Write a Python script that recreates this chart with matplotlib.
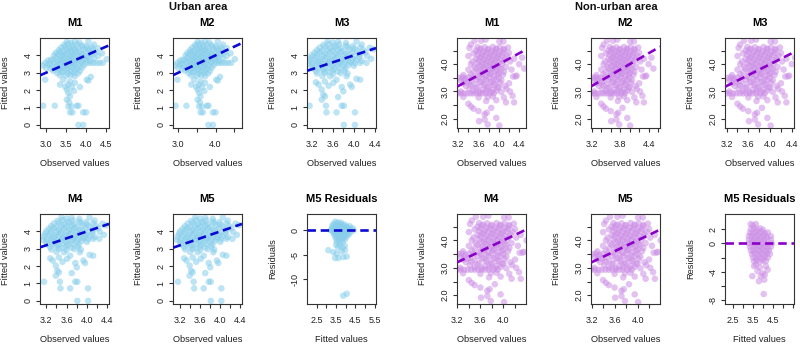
import numpy as np
import matplotlib
matplotlib.use("Agg")
from matplotlib import pyplot as plt

plt.rcParams['font.family'] = ['Liberation Sans', 'DejaVu Sans']

# (observed, fitted) for urban models M1 and M2
urban_m12 = [
    (3.52, 4.78), (3.62, 4.72), (3.72, 4.80), (3.83, 4.74), (4.06, 4.79),
    (3.45, 4.60), (3.55, 4.66), (3.66, 4.55), (3.78, 4.63), (3.90, 4.58), (4.02, 4.52), (4.20, 4.62),
    (3.38, 4.45), (3.48, 4.50), (3.58, 4.40), (3.68, 4.46), (3.80, 4.41), (3.92, 4.49), (4.05, 4.40), (4.15, 4.46), (4.30, 4.42),
    (3.32, 4.30), (3.42, 4.25), (3.52, 4.34), (3.62, 4.26), (3.72, 4.33), (3.82, 4.24), (3.95, 4.34), (4.08, 4.27), (4.18, 4.31),
    (3.25, 4.15), (3.35, 4.19), (3.45, 4.10), (3.55, 4.18), (3.65, 4.11), (3.75, 4.19), (3.88, 4.10), (4.00, 4.18), (4.12, 4.11), (4.25, 4.18), (4.40, 4.12),
    (3.20, 4.00), (3.30, 4.04), (3.40, 3.96), (3.50, 4.03), (3.60, 3.95), (3.70, 4.05), (3.80, 3.96), (3.90, 4.03), (4.02, 3.96), (4.15, 4.04), (4.30, 3.97),
    (3.12, 3.75), (3.25, 3.89), (3.35, 3.81), (3.45, 3.88), (3.55, 3.80), (3.65, 3.89), (3.75, 3.81), (3.85, 3.88), (3.95, 3.81), (4.05, 3.89), (4.20, 3.83), (4.52, 3.78),
    (3.05, 3.70), (3.18, 3.74), (3.30, 3.66), (3.40, 3.73), (3.50, 3.66), (3.60, 3.74), (3.70, 3.65), (3.80, 3.73), (3.90, 3.66), (4.00, 3.74), (4.10, 3.68),
    (2.98, 3.57), (3.10, 3.53), (3.22, 3.60), (3.35, 3.52), (3.45, 3.60), (3.55, 3.52), (3.65, 3.60), (3.75, 3.53), (3.88, 3.59),
    (4.02, 3.57), (4.10, 3.57), (4.18, 3.57), (4.26, 3.57), (4.34, 3.57), (4.42, 3.57),
    (2.92, 3.42), (3.05, 3.46), (3.15, 3.38), (3.28, 3.45), (3.40, 3.38), (3.50, 3.46), (3.60, 3.38), (3.70, 3.45), (3.82, 3.39), (3.95, 3.44),
    (3.00, 3.28), (3.12, 3.24), (3.25, 3.31), (3.35, 3.24), (3.45, 3.32), (3.55, 3.23), (3.66, 3.31), (3.78, 3.25), (3.90, 3.30),
    (3.18, 3.12), (3.30, 3.16), (3.42, 3.08), (3.52, 3.15), (3.62, 3.08), (3.72, 3.16), (3.85, 3.10),
    (3.28, 2.98), (3.40, 3.02), (3.55, 2.95), (3.70, 3.00), (3.80, 2.96),
    (3.35, 2.85), (3.50, 2.83), (3.62, 2.86),
    (2.98, 2.60), (3.35, 2.32), (3.56, 2.32), (3.64, 2.18), (3.52, 2.03), (3.56, 1.84), (3.60, 1.64), (3.52, 1.45),
    (3.56, 1.06), (3.64, 1.06), (3.77, 1.10), (3.81, 1.10), (3.60, 0.72), (3.66, 0.72), (3.93, 0.72), (4.00, 0.72),
    (3.81, 0.00), (3.93, 0.00), (3.85, 2.18), (4.02, 2.60), (4.12, 2.76), (4.06, 2.55), (2.93, 1.10), (3.22, 1.10),
    (3.72, 2.42), (3.43, 2.60), (3.72, 2.80), (3.60, 2.50), (3.48, 2.20), (3.70, 1.95), (3.58, 1.30),
]

# (observed, fitted) for urban models M3, M4 and M5
urban_m345 = [
    (3.50, 4.80), (3.60, 4.74), (3.70, 4.78), (3.85, 4.72), (4.05, 4.80),
    (3.42, 4.60), (3.52, 4.65), (3.62, 4.55), (3.72, 4.63), (3.85, 4.57), (3.98, 4.53), (4.15, 4.62),
    (3.35, 4.45), (3.45, 4.49), (3.55, 4.40), (3.65, 4.47), (3.75, 4.41), (3.88, 4.49), (4.00, 4.40), (4.12, 4.46), (4.30, 4.44),
    (3.30, 4.30), (3.40, 4.25), (3.50, 4.34), (3.60, 4.26), (3.70, 4.33), (3.80, 4.25), (3.92, 4.34), (4.05, 4.27), (4.18, 4.31), (4.37, 4.35),
    (3.25, 4.15), (3.35, 4.19), (3.45, 4.10), (3.55, 4.18), (3.65, 4.11), (3.75, 4.19), (3.85, 4.10), (3.97, 4.18), (4.10, 4.11), (4.22, 4.18),
    (3.20, 4.00), (3.30, 4.04), (3.40, 3.96), (3.50, 4.03), (3.60, 3.95), (3.70, 4.05), (3.80, 3.96), (3.90, 4.03), (4.00, 3.96), (4.12, 4.04), (4.25, 3.97),
    (3.18, 3.85), (3.28, 3.89), (3.38, 3.81), (3.48, 3.88), (3.58, 3.80), (3.68, 3.89), (3.78, 3.81), (3.88, 3.88), (3.98, 3.81), (4.10, 3.89), (4.33, 3.80),
    (3.15, 3.70), (3.25, 3.74), (3.35, 3.66), (3.45, 3.73), (3.55, 3.66), (3.65, 3.74), (3.75, 3.65), (3.85, 3.73), (3.95, 3.66), (4.05, 3.74), (4.15, 3.68),
    (3.14, 3.50), (3.22, 3.55), (3.32, 3.60), (3.42, 3.52), (3.52, 3.60), (3.62, 3.52), (3.72, 3.60), (3.82, 3.53), (3.92, 3.59), (4.02, 3.55), (4.12, 3.57), (4.24, 3.57),
    (3.20, 3.40), (3.30, 3.45), (3.40, 3.38), (3.50, 3.46), (3.60, 3.38), (3.70, 3.45), (3.80, 3.39), (3.90, 3.45), (4.00, 3.40),
    (3.22, 3.25), (3.32, 3.29), (3.42, 3.22), (3.52, 3.28), (3.62, 3.22), (3.72, 3.28), (3.84, 3.24),
    (3.28, 3.10), (3.40, 3.14), (3.50, 3.06), (3.60, 3.13), (3.70, 3.07), (3.82, 3.12),
    (3.30, 2.96), (3.45, 2.99), (3.60, 2.93), (3.75, 2.98), (3.88, 2.95),
    (3.40, 2.82), (3.55, 2.80), (3.86, 2.80),
    (3.16, 1.10), (3.33, 2.32), (3.39, 2.03), (3.42, 1.74), (3.45, 1.64), (3.39, 1.45), (3.47, 1.10), (3.77, 1.10),
    (3.81, 1.10), (3.48, 0.72), (3.67, 0.72), (4.02, 0.72), (3.81, 0.00), (4.02, 0.00), (3.61, 2.42), (3.67, 2.60),
    (3.77, 2.18), (3.80, 1.93), (3.93, 2.32), (3.96, 2.18), (4.05, 2.65), (4.12, 2.60), (3.52, 2.25), (3.45, 2.50),
    (3.70, 1.60), (3.28, 2.45),
]

# (fitted, residual) for urban M5
urban_resid = [
    (3.45, 1.7), (3.60, 1.6), (3.75, 1.5),
    (3.35, 1.2), (3.50, 1.3), (3.65, 1.1), (3.80, 1.2), (3.95, 1.1),
    (3.30, 0.8), (3.45, 0.7), (3.60, 0.9), (3.75, 0.7), (3.90, 0.8), (4.05, 0.7), (4.20, 0.8),
    (3.30, 0.4), (3.45, 0.5), (3.60, 0.3), (3.75, 0.5), (3.90, 0.3), (4.05, 0.4), (4.20, 0.3), (4.35, 0.4),
    (3.22, 0.0), (3.30, 0.0), (3.45, -0.1), (3.60, 0.1), (3.75, -0.1), (3.90, 0.1), (4.05, 0.0), (4.20, 0.1), (4.40, 0.0),
    (3.35, -0.4), (3.50, -0.5), (3.65, -0.3), (3.80, -0.5), (3.95, -0.4), (4.10, -0.5), (4.25, -0.4),
    (3.40, -0.8), (3.55, -0.9), (3.70, -0.8), (3.85, -0.9), (4.00, -0.8), (4.15, -0.9),
    (3.45, -1.3), (3.60, -1.4), (3.75, -1.2), (3.90, -1.4), (4.05, -1.3),
    (3.50, -1.8), (3.65, -1.9), (3.80, -1.7), (3.95, -1.9),
    (3.55, -2.4), (3.70, -2.5), (3.85, -2.3),
    (3.10, -4.1), (3.36, -4.5), (3.53, -4.8), (3.45, -5.7), (3.62, -5.7), (3.79, -4.3), (3.96, -4.1), (4.05, -5.4),
    (3.87, -5.5), (3.70, -3.1), (3.84, -3.6), (3.60, -3.5), (3.50, -3.0), (3.95, -3.2),
    (3.87, -13.4), (4.05, -13.0),
]

# (observed, fitted) for non-urban models M1 to M5
nonurban_fit = [
    (3.52, 4.86), (3.65, 4.86), (3.74, 4.90), (4.01, 4.83), (4.09, 4.83), (3.45, 4.72),
    (3.42, 4.60), (3.58, 4.63), (3.65, 4.57), (3.72, 4.62), (3.80, 4.56), (3.88, 4.63), (3.95, 4.57), (4.02, 4.62), (4.10, 4.56), (4.18, 4.61),
    (3.55, 4.50), (3.62, 4.54), (3.70, 4.46), (3.78, 4.53), (3.86, 4.46), (3.94, 4.54), (4.02, 4.46), (4.10, 4.52),
    (3.50, 4.40), (3.60, 4.44), (3.68, 4.36), (3.76, 4.43), (3.84, 4.36), (3.92, 4.44), (4.00, 4.36), (4.08, 4.42), (4.20, 4.41),
    (3.40, 4.30), (3.58, 4.34), (3.66, 4.26), (3.74, 4.33), (3.82, 4.26), (3.90, 4.34), (3.98, 4.26), (4.06, 4.32), (4.16, 4.31), (4.46, 4.24),
    (3.55, 4.20), (3.63, 4.24), (3.71, 4.16), (3.79, 4.23), (3.87, 4.16), (3.95, 4.24), (4.03, 4.16), (4.12, 4.22), (4.30, 4.20),
    (3.48, 4.10), (3.60, 4.14), (3.68, 4.06), (3.76, 4.13), (3.84, 4.06), (3.92, 4.14), (4.00, 4.06), (4.10, 4.12), (4.22, 4.10),
    (3.45, 4.00), (3.58, 4.04), (3.66, 3.96), (3.74, 4.03), (3.82, 3.96), (3.90, 4.04), (3.98, 3.96), (4.06, 4.02), (4.40, 4.00),
    (3.52, 3.90), (3.62, 3.94), (3.70, 3.86), (3.78, 3.93), (3.86, 3.86), (3.94, 3.94), (4.02, 3.86), (4.14, 3.90), (4.50, 3.84),
    (3.40, 3.80), (3.55, 3.84), (3.64, 3.76), (3.72, 3.83), (3.80, 3.76), (3.88, 3.84), (3.96, 3.76), (4.05, 3.82), (4.25, 3.80),
    (3.50, 3.70), (3.60, 3.74), (3.68, 3.66), (3.76, 3.73), (3.84, 3.66), (3.92, 3.74), (4.00, 3.66), (4.10, 3.72),
    (3.30, 3.60), (3.45, 3.63), (3.58, 3.56), (3.66, 3.63), (3.74, 3.56), (3.82, 3.64), (3.90, 3.56), (3.98, 3.62), (4.08, 3.61), (4.35, 3.58),
    (3.22, 3.50), (3.28, 3.52), (3.34, 3.48), (3.40, 3.51), (3.48, 3.49), (3.60, 3.52), (3.70, 3.46), (3.80, 3.53), (3.90, 3.46), (4.00, 3.50), (4.28, 3.55), (4.33, 3.55),
    (3.25, 3.40), (3.32, 3.42), (3.42, 3.36), (3.55, 3.43), (3.65, 3.36), (3.75, 3.44), (3.85, 3.36), (3.95, 3.42), (4.05, 3.41),
    (3.30, 3.30), (3.38, 3.32), (3.50, 3.26), (3.62, 3.33), (3.72, 3.26), (3.82, 3.34), (3.92, 3.26), (4.02, 3.32), (4.20, 3.30),
    (3.35, 3.20), (3.45, 3.22), (3.58, 3.16), (3.70, 3.23), (3.80, 3.16), (3.90, 3.24), (4.00, 3.16), (4.12, 3.20),
    (3.42, 3.10), (3.55, 3.12), (3.68, 3.06), (3.78, 3.13), (3.88, 3.06), (3.98, 3.13), (4.15, 3.10),
    (3.25, 3.00), (3.50, 3.02), (3.62, 2.98), (3.75, 3.03), (3.85, 2.98), (3.95, 3.03), (4.05, 2.98), (4.22, 3.00),
    (3.20, 2.93), (3.26, 2.93), (3.32, 2.93), (3.38, 2.93), (3.44, 2.93), (3.50, 2.93), (3.56, 2.93), (3.62, 2.93),
    (3.68, 2.93), (3.74, 2.93), (3.82, 2.93), (3.90, 2.93),
    (3.30, 2.80), (3.60, 2.78), (3.78, 2.80), (3.88, 2.82), (4.10, 2.78), (4.27, 2.84),
    (3.75, 2.65), (3.95, 2.68), (4.14, 2.60),
    (3.50, 2.37), (3.60, 2.28), (3.72, 2.16), (3.76, 2.22), (3.72, 1.97), (3.61, 1.91), (3.78, 1.79), (4.01, 1.75),
    (3.95, 2.03), (3.45, 2.45), (3.85, 2.40), (4.30, 2.60), (3.40, 2.55),
]

# (fitted, residual) for non-urban M5
nonurban_resid = [
    (3.39, 2.7), (3.65, 2.7), (3.50, 2.5),
    (3.40, 2.0), (3.55, 2.1), (3.70, 1.9), (3.85, 2.1), (4.00, 1.9),
    (3.35, 1.5), (3.50, 1.4), (3.65, 1.6), (3.80, 1.4), (3.95, 1.6), (4.10, 1.4), (4.25, 1.5),
    (3.30, 1.0), (3.45, 1.1), (3.60, 0.9), (3.75, 1.1), (3.90, 0.9), (4.05, 1.1), (4.20, 0.9), (4.40, 1.0),
    (3.30, 0.5), (3.45, 0.4), (3.60, 0.6), (3.75, 0.4), (3.90, 0.6), (4.05, 0.4), (4.20, 0.6), (4.40, 0.5),
    (3.30, 0.0), (3.45, 0.1), (3.60, -0.1), (3.75, 0.1), (3.90, -0.1), (4.05, 0.1), (4.20, -0.1), (4.45, 0.0),
    (3.35, -0.5), (3.50, -0.4), (3.65, -0.6), (3.80, -0.4), (3.95, -0.6), (4.10, -0.4), (4.25, -0.6), (4.40, -0.5),
    (3.40, -1.0), (3.55, -1.1), (3.70, -0.9), (3.85, -1.1), (4.00, -0.9), (4.15, -1.1), (4.30, -1.0),
    (3.45, -1.5), (3.60, -1.4), (3.75, -1.6), (3.90, -1.4), (4.05, -1.6), (4.20, -1.4), (4.35, -1.5),
    (3.50, -2.0), (3.65, -2.1), (3.80, -1.9), (3.95, -2.1), (4.10, -1.9), (4.25, -2.0),
    (3.55, -2.5), (3.70, -2.4), (3.85, -2.6), (4.00, -2.4), (4.15, -2.5),
    (3.56, -3.2), (3.73, -3.9), (3.90, -4.6), (4.07, -5.1), (3.47, -4.6), (4.24, -3.7), (4.04, -7.1), (3.99, -4.2),
    (3.65, -3.0), (3.85, -3.4), (4.10, -4.4), (4.15, -3.2), (3.80, -5.3),
]

urban_pt = '#87ceeb'
urban_line = '#0a0ad2'
rural_pt = '#cc8fe6'
rural_line = '#8a00c8'

W, H = 800, 345
fig = plt.figure(figsize=(8, 3.45), dpi=100)


def panel(left, top, title, pts, pt_col, line_col, xlim, ylim, xticks, xlabels,
          yticks, ylabels, xlabel, ylabel, resid=False):
    ax = fig.add_axes([left / W, 1 - (top + 90) / H, 69 / W, 90 / H])
    x = [p[0] for p in pts]
    y = [p[1] for p in pts]
    ax.scatter(x, y, s=22, color=pt_col, alpha=0.55, edgecolors='none', zorder=2)
    if resid:
        ax.axhline(0, color=line_col, lw=1.9, linestyle=(0, (3.2, 1.8)), zorder=3)
    else:
        ax.axline((0, 0), slope=1, color=line_col, lw=1.9, linestyle=(0, (3.2, 1.8)), zorder=3)
    ax.set_xlim(*xlim)
    ax.set_ylim(*ylim)
    ax.set_xticks(xticks)
    ax.set_xticklabels(xlabels)
    ax.set_yticks(yticks)
    ax.set_yticklabels(ylabels)
    for lab in ax.get_yticklabels():
        lab.set_rotation(90)
        lab.set_va('center')
    ax.tick_params(direction='out', length=3, width=0.8, color='#333333',
                   labelsize=6.5, labelcolor='#222222')
    ax.tick_params(axis='x', pad=5.5)
    ax.tick_params(axis='y', pad=2.5)
    for sp in ax.spines.values():
        sp.set_color('#333333')
        sp.set_linewidth(0.8)
    ax.set_title(title, fontsize=8, fontweight='bold', pad=9)
    ax.set_xlabel(xlabel, fontsize=6.7, color='#222222')
    ax.set_ylabel(ylabel, fontsize=6.7, color='#222222')
    ax.xaxis.set_label_coords(0.5, -0.40)
    ax.xaxis.label.set_va('center')
    ax.yaxis.set_label_coords(-0.50, 0.5)
    ax.yaxis.label.set_va('center')
    return ax


ticks_a = [3.0, 3.5, 4.0, 4.5]
ticks_b = [3.2, 3.4, 3.6, 3.8, 4.0, 4.2, 4.4]
lab_b = ['3.2', '', '3.6', '', '4.0', '', '4.4']
u_y = [0, 1, 2, 3, 4]
u_ylab = ['0', '1', '2', '3', '4']
r_y = [2.0, 2.5, 3.0, 3.5, 4.0, 4.5]
r_ylab = ['2.0', '', '3.0', '', '4.0', '']
res_x = [2.5, 3.0, 3.5, 4.0, 4.5, 5.0, 5.5]

OBS, FIT = 'Observed values', 'Fitted values'

# urban area
panel(40, 38, 'M1', urban_m12, urban_pt, urban_line, (2.85, 4.575), (-0.18, 5.0),
      ticks_a, ['3.0', '3.5', '4.0', '4.5'], u_y, u_ylab, OBS, FIT)
panel(173, 38, 'M2', urban_m12, urban_pt, urban_line, (2.86, 4.71), (-0.18, 5.0),
      ticks_a, ['3.0', '', '4.0', ''], u_y, u_ylab, OBS, FIT)
panel(307, 38, 'M3', urban_m345, urban_pt, urban_line, (3.11, 4.42), (-0.18, 5.0),
      ticks_b, lab_b, u_y, u_ylab, OBS, FIT)
panel(40, 214, 'M4', urban_m345, urban_pt, urban_line, (3.08, 4.43), (-0.18, 5.0),
      ticks_b, lab_b, u_y, u_ylab, OBS, FIT)
panel(173, 214, 'M5', urban_m345, urban_pt, urban_line, (3.06, 4.43), (-0.18, 5.0),
      ticks_b, lab_b, u_y, u_ylab, OBS, FIT)
panel(307, 214, 'M5 Residuals', urban_resid, urban_pt, urban_line, (2.0, 5.56), (-15.1, 3.3),
      res_x, ['2.5', '', '3.5', '', '4.5', '', '5.5'], [-10, -5, 0], ['-10', '-5', '0'],
      FIT, 'Residuals', resid=True)

# non-urban area
panel(457, 38, 'M1', nonurban_fit, rural_pt, rural_line, (3.175, 4.535), (1.66, 4.96),
      ticks_b, lab_b, r_y, r_ylab, OBS, FIT)
panel(591, 38, 'M2', nonurban_fit, rural_pt, rural_line, (3.185, 4.64), (1.66, 4.96),
      ticks_b + [4.6], ['3.2', '', '', '3.8', '', '', '4.4', ''], r_y, r_ylab, OBS, FIT)
panel(725, 38, 'M3', nonurban_fit, rural_pt, rural_line, (3.17, 4.44), (1.66, 4.96),
      ticks_b, lab_b, r_y, r_ylab, OBS, FIT)
panel(457, 214, 'M4', nonurban_fit, rural_pt, rural_line, (3.195, 4.39), (1.68, 4.96),
      ticks_b[:-1], lab_b[:-1], r_y, r_ylab, OBS, FIT)
panel(591, 214, 'M5', nonurban_fit, rural_pt, rural_line, (3.19, 4.39), (1.68, 4.96),
      ticks_b[:-1], lab_b[:-1], r_y, r_ylab, OBS, FIT)
panel(725, 214, 'M5 Residuals', nonurban_resid, rural_pt, rural_line, (2.1, 5.56), (-8.5, 4.1),
      res_x, ['2.5', '', '3.5', '', '4.5', '', ''], [-8, -6, -4, -2, 0, 2],
      ['-8', '', '-4', '', '0', '2'], FIT, 'Residuals', resid=True)

fig.text(198 / W, 1 - 7 / H, 'Urban area', ha='center', va='center',
         fontsize=8, fontweight='bold', color='#111111')
fig.text(616 / W, 1 - 7 / H, 'Non-urban area', ha='center', va='center',
         fontsize=8, fontweight='bold', color='#111111')

fig.savefig('out.png', dpi=100)
